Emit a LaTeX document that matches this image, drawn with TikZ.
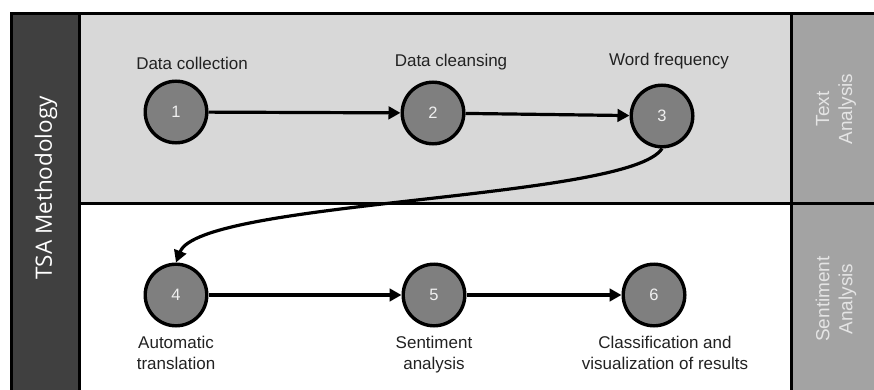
\documentclass[tikz,border=0pt]{standalone}
\usepackage{fontspec}
\setmainfont{Liberation Sans}
\newfontfamily\osans{Open Sans}
\usetikzlibrary{arrows.meta}
\definecolor{topgray}{HTML}{D8D8D8}
\definecolor{darkband}{HTML}{404040}
\definecolor{sideband}{HTML}{A3A3A3}
\definecolor{circgray}{HTML}{7F7F7F}
\definecolor{labtext}{HTML}{222222}
\definecolor{numwhite}{HTML}{F0F0F0}
\definecolor{sidetext}{HTML}{E4E4E4}
\begin{document}
\begin{tikzpicture}[x=1pt,y=-1pt,
  frameline/.style={line width=3pt, black},
  circ/.style={circle, draw=black, line width=3.4pt, fill=circgray, minimum size=61.6pt,
    inner sep=0pt, text=numwhite, font=\fontsize{16.5}{19}\selectfont},
  lab/.style={text=labtext, font=\fontsize{17}{21}\selectfont, align=center, inner sep=0pt},
  sidelab/.style={text=sidetext, font=\fontsize{19}{23}\selectfont, align=center, inner sep=0pt, rotate=90},
  arr/.style={line width=3.2pt, black, -{Triangle[length=12pt,width=12.5pt]}}
]
\useasboundingbox (0,0) rectangle (874,390);
% backgrounds
\fill[white] (0,0) rectangle (874,390);
\fill[topgray] (80,13) rectangle (791,203);
\fill[darkband] (11,13) rectangle (80,390);
\fill[sideband] (791,13) rectangle (874,390);
% frame lines
\draw[frameline] (11.5,390) -- (11.5,13.5) -- (874,13.5);
\draw[frameline] (79.5,13) -- (79.5,390);
\draw[frameline] (791,13) -- (791,390);
\draw[frameline] (80,203) -- (874,203);
% side labels
\node[text=white, font=\osans\fontsize{22.5}{26}\selectfont, rotate=90, inner sep=0pt] (tsa) at (46,188) {TSA Methodology};
\node[sidelab] (ta) at (836,109) {Text\\Analysis};
\node[sidelab] (sa) at (836,299) {Sentiment\\Analysis};
% circles
\node[circ] (n1) at (176,112) {1};
\node[circ] (n2) at (433,113) {2};
\node[circ] (n3) at (662,116) {3};
\node[circ] (n4) at (176,295) {4};
\node[circ] (n5) at (434,295) {5};
\node[circ] (n6) at (654,295) {6};
% labels
\node[lab] (l1) at (192,63) {Data collection};
\node[lab] (l2) at (451,62) {Data cleansing};
\node[lab] (l3) at (669,61) {Word frequency};
\node[lab] (l4) at (176,353) {Automatic\\translation};
\node[lab] (l5) at (434,355) {Sentiment\\analysis};
\node[lab] (l6) at (665,353) {Classification and\\visualization of results};
% connectors
\draw[arr] (n1) -- (n2);
\draw[arr] (n2) -- (n3);
\draw[arr] (n3.south) .. controls (630,200) and (200,200) .. (n4.north);
\draw[arr] (n4) -- (n5);
\draw[arr] (n5) -- (n6);
\end{tikzpicture}
\end{document}
